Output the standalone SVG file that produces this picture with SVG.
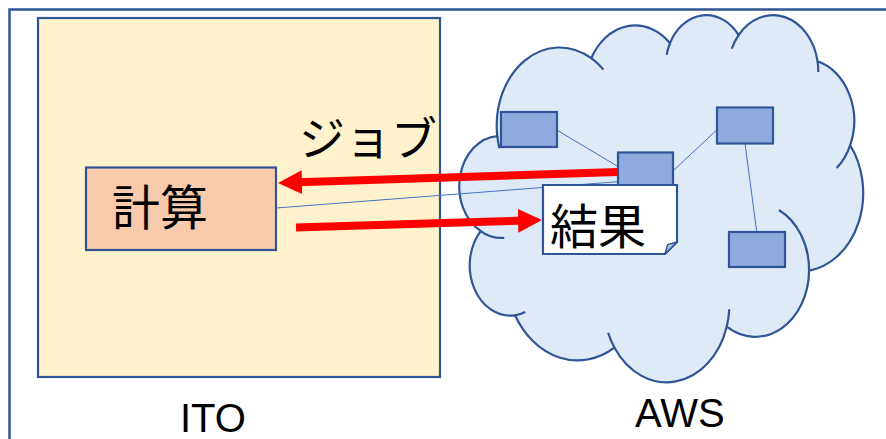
<svg xmlns="http://www.w3.org/2000/svg" width="886" height="439" viewBox="0 0 886 439">
<defs>
<style>
.frame{fill:none;stroke:#2F5597;stroke-width:2.5}
.box{stroke:#2F5597;stroke-width:2.2}
.node{fill:#8FAADC;stroke:#2F5597;stroke-width:2.2}
.thin{fill:none;stroke:#4472C4;stroke-width:1}
.red{fill:none;stroke:#FF0000;stroke-width:8}
.cj{font-family:"Noto Sans CJK JP","Noto Sans",sans-serif;fill:#000}
.lat{font-family:"Liberation Sans",Arial,sans-serif;fill:#000;font-size:40px}
.cloud{fill:#DEEBF7;stroke:#2F5597;stroke-width:2.2}
.tail{fill:none;stroke:#2F5597;stroke-width:2.2}
</style>
<marker id="ah" viewBox="0 0 24 24" refX="12" refY="12" markerWidth="24" markerHeight="24" markerUnits="userSpaceOnUse" orient="auto">
<path d="M0,0 L24,12 L0,24 Z" fill="#FF0000"/>
</marker>
</defs>
<rect class="frame" x="9.5" y="9.5" width="900" height="460"/>
<g id="ito">
<rect class="box" x="38" y="18" width="402" height="359" fill="#FFF2CC"/>
<text class="lat" x="180" y="432">ITO</text>
</g>
<g id="keisan">
<rect class="box" x="86" y="167.5" width="190" height="82.5" fill="#F8CBAD"/>
<text class="cj" x="112" y="225" font-size="48">計算</text>
</g>
<g id="aws">
<path class="cloud" d="M497.29,136.08 A62.84,78.07 0 0 1 591.33,58.20 A49.63,61.74 0 0 1 669.97,43.13 A40.62,50.50 0 0 1 738.61,35.01 A45.20,56.03 0 0 1 817.57,61.31 A49.63,61.79 0 0 1 850.14,145.28 A63.05,78.33 0 0 1 809.08,270.55 A53.83,66.83 0 0 1 726.74,326.70 A62.83,78.28 0 0 1 614.38,347.55 A71.84,89.57 0 0 1 515.02,315.32 A40.57,50.28 0 0 1 480.67,231.04 A40.43,50.50 0 0 1 497.29,136.08 Z"/>
<path class="tail" d="M591.33,58.20 A62.84,78.07 0 0 1 603.40,69.63 M666.64,54.92 A40.62,50.50 0 0 1 669.97,43.13 M731.71,48.70 A45.20,56.03 0 0 1 738.61,35.01 M817.57,61.31 A45.20,56.03 0 0 1 818.29,72.04 M850.14,145.28 A49.63,61.79 0 0 1 836.69,168.01 M778.86,209.95 A53.83,66.83 0 0 1 809.08,270.55 M729.26,309.22 A62.83,78.28 0 0 1 726.74,326.70 M614.38,347.55 A62.83,78.28 0 0 1 608.15,332.74 M525.32,312.10 A40.57,50.28 0 0 1 515.02,315.32 M504.25,237.81 A40.43,50.50 0 0 1 480.67,231.04 M499.41,148.14 A62.84,78.07 0 0 1 497.29,136.08"/>
<text class="lat" x="635" y="427">AWS</text>
</g>
<g id="connectors">
<line class="thin" x1="276" y1="208" x2="618" y2="181.7"/>
<line class="thin" x1="556.7" y1="130" x2="618.3" y2="166.7"/>
<line class="thin" x1="673.3" y1="170.7" x2="716.7" y2="130"/>
<line class="thin" x1="745" y1="143.3" x2="756.7" y2="231.7"/>
</g>
<g id="n1"><rect class="node" x="501" y="112" width="56" height="35"/></g>
<g id="n2"><rect class="node" x="618" y="152.5" width="55" height="35"/></g>
<g id="n3"><rect class="node" x="717" y="107.5" width="56" height="36"/></g>
<g id="n4"><rect class="node" x="729" y="232" width="56" height="35"/></g>
<g id="kekka">
<path class="box" fill="#FFFFFF" d="M543,185 H677 V242 L665,254 H543 Z"/>
<path d="M665,254 L667.6,244.6 L677,242 Z" fill="#B4C3DC" stroke="#2F5597" stroke-width="1.5" stroke-linejoin="round"/>
<text class="cj" x="550" y="244" font-size="48">結果</text>
</g>
<g id="flows">
<line class="red" x1="618" y1="172" x2="290" y2="182.6" marker-end="url(#ah)"/>
<line class="red" x1="296" y1="227.5" x2="530" y2="220.4" marker-end="url(#ah)"/>
<text class="cj" x="299" y="155" font-size="46">ジョブ</text>
</g>
</svg>
